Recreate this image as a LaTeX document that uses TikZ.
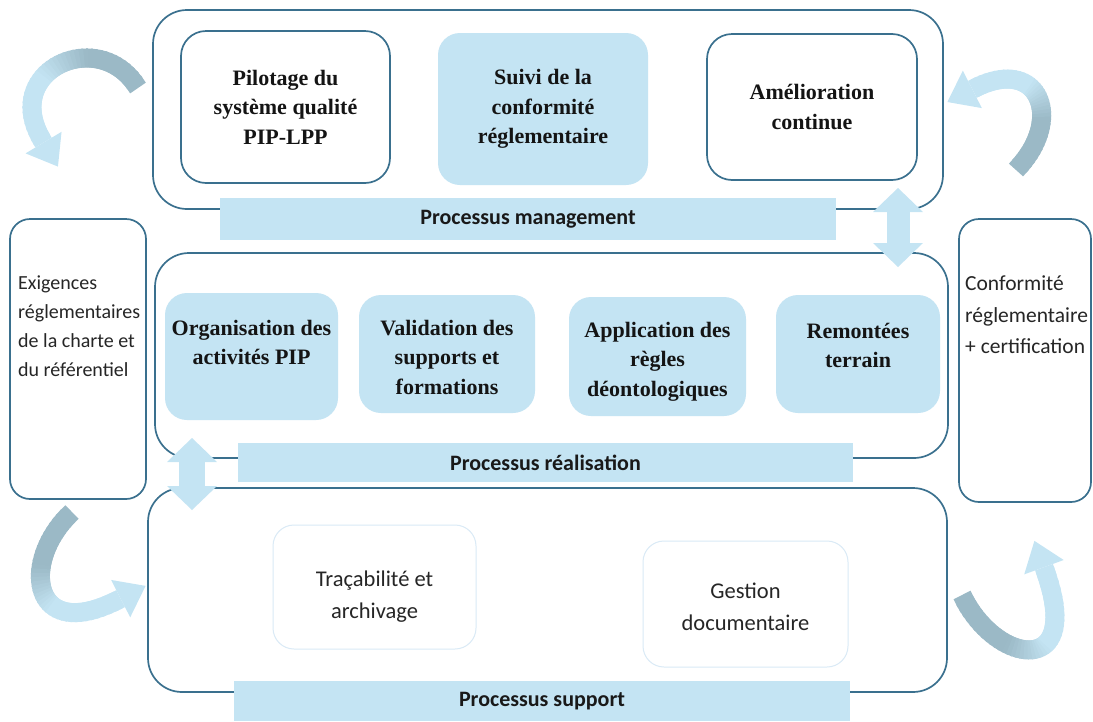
\documentclass[tikz,border=0pt]{standalone}
\usepackage{fontspec}
\setmainfont{Liberation Serif}
\setsansfont{Carlito}
\usetikzlibrary{arrows.meta,calc}
\definecolor{procline}{RGB}{58,112,142}
\definecolor{procfill}{RGB}{196,228,243}
\definecolor{banddark}{RGB}{155,185,198}
\definecolor{softline}{RGB}{218,234,246}
\tikzset{
  boxsize/.style 2 args={minimum width=#1pt, minimum height=#2pt, inner sep=0pt, outer sep=0pt},
  outerbox/.style={draw=procline, line width=1.7pt, rounded corners=34pt, fill=white},
  whitebox/.style={draw=procline, line width=1.7pt, rounded corners=25pt, fill=white},
  bluebox/.style={fill=procfill, rounded corners=22pt},
  sidebox/.style={draw=procline, line width=1.7pt, rounded corners=20pt, fill=white},
  softbox/.style={draw=softline, line width=1pt, rounded corners=21pt, fill=white},
  banner/.style={fill=procfill, text=black!90, font=\sffamily\bfseries\fontsize{22}{26}\selectfont},
  boxtitle/.style={inner sep=0pt, align=center, text=black!92, font=\bfseries\fontsize{22}{29.5}\selectfont},
  sidetext/.style 2 args={inner sep=0pt, align=left, text=black!85, font=\sffamily\fontsize{#1}{#2}\selectfont},
  softtext/.style={inner sep=0pt, align=center, text=black!85, font=\sffamily\fontsize{22.5}{32}\selectfont},
  linkarrow/.style={draw=procfill, line width=23pt,
    {Triangle[width=50pt,length=24pt,line width=0pt]}-{Triangle[width=50pt,length=24pt,line width=0pt]}},
  swirlband/.style={line width=19pt, line cap=butt},
}
% curved band, dark tail fading to light head (cubic bezier p0 p1 p2 p3)
\newcommand{\bandarrow}[8]{%
  \foreach \k in {0,...,39}{%
    \pgfmathsetmacro\tlo{\k/40}%
    \pgfmathsetmacro\thi{min(1,(\k+1.6)/40)}%
    \pgfmathsetmacro\bxa{(1-\tlo)^3*#1+3*(1-\tlo)^2*\tlo*#3+3*(1-\tlo)*\tlo^2*#5+\tlo^3*#7}%
    \pgfmathsetmacro\bya{(1-\tlo)^3*#2+3*(1-\tlo)^2*\tlo*#4+3*(1-\tlo)*\tlo^2*#6+\tlo^3*#8}%
    \pgfmathsetmacro\bxb{(1-\thi)^3*#1+3*(1-\thi)^2*\thi*#3+3*(1-\thi)*\thi^2*#5+\thi^3*#7}%
    \pgfmathsetmacro\byb{(1-\thi)^3*#2+3*(1-\thi)^2*\thi*#4+3*(1-\thi)*\thi^2*#6+\thi^3*#8}%
    \pgfmathsetmacro\mixpct{max(0,min(100,(0.62-\tlo)*330))}%
    \draw[swirlband, draw=banddark!\mixpct!procfill] (\bxa,\bya) -- (\bxb,\byb);
  }%
  \draw[swirlband, draw=procfill, -{Triangle[width=42pt,length=28pt,line width=0pt]}]
    let \p1=($(#7,#8)-(#5,#6)$), \n1={atan2(\y1,\x1)} in ($(#7,#8)+(\n1+180:2pt)$) -- ++(\n1:33pt);
}

\begin{document}
\begin{tikzpicture}[x=1pt, y=-1pt]
  \useasboundingbox (0,0) rectangle (1093,721);

  \node [outerbox, boxsize={790}{199}] (mgmt) at (548,109.5) {};
  \node [outerbox, boxsize={793}{205}] (real) at (551.5,355.5) {};
  \node [outerbox, boxsize={799}{204}] (supp) at (547.5,590) {};

  \node [whitebox, boxsize={209}{152}, boxtitle] (pilot)  at (285.5,107) {Pilotage du\\système qualité\\PIP-LPP};
  \node [bluebox,  boxsize={210}{152}, boxtitle] (suivi)  at (543,109)   {Suivi de la\\conformité\\réglementaire};
  \node [whitebox, boxsize={210}{146}, boxtitle] (amelio) at (812,107)   {Amélioration\\continue};

  \node [bluebox, boxsize={173}{127}] (org)   at (251.5,356.5) {};
  \node [bluebox, boxsize={176}{118}] (valid) at (447,354)     {};
  \node [bluebox, boxsize={177}{119}] (deonto) at (657.5,356.5) {};
  \node [bluebox, boxsize={164}{118}] (remont) at (858,354)    {};
  \node [boxtitle, anchor=north] (orgtext)    at ([yshift=-27pt]org.north)    {Organisation des\\activités PIP};
  \node [boxtitle, anchor=north] (validtext)  at ([yshift=-25pt]valid.north)  {Validation des\\supports et\\formations};
  \node [boxtitle, anchor=north] (deontotext) at ([yshift=-25pt]deonto.north) {Application des\\règles\\déontologiques};
  \node [boxtitle, anchor=north] (remonttext) at ([yshift=-28pt]remont.north) {Remontées\\terrain};

  \node [softbox, boxsize={203}{124}] (trace) at (374.5,587) {};
  \node [softbox, boxsize={205}{126}] (docs)  at (745.5,604) {};
  \node [softtext] (tracetext) at ([yshift=-10pt]trace.center) {Traçabilité et\\archivage};
  \node [softtext] (docstext)  at ([yshift=-3pt]docs.center)   {Gestion\\documentaire};

  \node [banner, boxsize={616}{42}] (mgmtbar) at (528,219)     {Processus management};
  \node [banner, boxsize={615}{39}] (realbar) at (545.5,462.5) {Processus réalisation};
  \node [banner, boxsize={616}{40}] (suppbar) at (542,701)     {Processus support};

  \node [sidebox, boxsize={136}{280}] (reqs)  at (78,359)     {};
  \node [sidebox, boxsize={132}{283}] (certs) at (1025,360.5) {};
  \node [sidetext={20}{29}, anchor=north west] (reqstext)
    at ([xshift=8pt, yshift=-57pt]reqs.north west) {Exigences\\réglementaires\\de la charte et\\du référentiel};
  \node [sidetext={21.5}{31.5}, anchor=north west] (certstext)
    at ([xshift=6pt, yshift=-57pt]certs.north west) {Conformité\\réglementaire\\+ certification};

  \bandarrow{138}{88}{100}{25}{0}{70}{42}{140}
  \bandarrow{1016}{170}{1065}{120}{1040}{55}{975}{88}
  \bandarrow{72}{512}{20}{560}{30}{645}{118}{600}
  \bandarrow{962}{595}{995}{665}{1085}{680}{1045}{570}

  \coordinate (mgmtlink) at (898,188);
  \coordinate (reallink) at (898,267);
  \coordinate (realfoot) at (192,438);
  \coordinate (supplink) at (192,510);
  \draw [linkarrow] (mgmtlink) -- (reallink);
  \draw [linkarrow, line width=26pt] (realfoot) -- (supplink);
\end{tikzpicture}
\end{document}
